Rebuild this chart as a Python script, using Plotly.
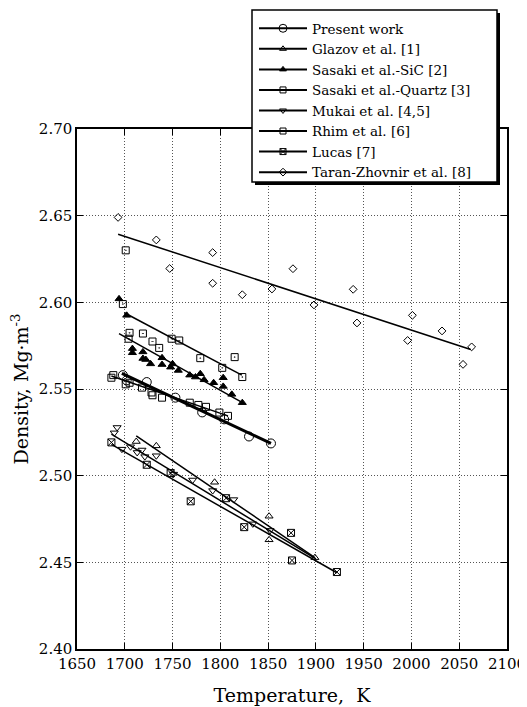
import plotly.graph_objects as go

# ---- data ----
present_T = [1698, 1702, 1723, 1753, 1781, 1804, 1830, 1853]
present_d = [2.558, 2.555, 2.554, 2.545, 2.5365, 2.5325, 2.5226, 2.5186]

glazov_T = [1712, 1733, 1794, 1851, 1851, 1899]
glazov_d = [2.5197, 2.5172, 2.4962, 2.4766, 2.463, 2.4527]

sic_T = [1694, 1702, 1708, 1708, 1719, 1719, 1722, 1727, 1739, 1739, 1748,
         1750, 1756, 1768, 1774, 1779, 1783, 1793, 1803, 1803, 1812, 1823]
sic_d = [2.602, 2.5925, 2.5733, 2.5709, 2.5714, 2.5676, 2.567, 2.5645, 2.568,
         2.5641, 2.5626, 2.5645, 2.5607, 2.558, 2.5569, 2.5588, 2.5553, 2.5536,
         2.5565, 2.5515, 2.5469, 2.5421]

quartz_T = [1701, 1698, 1705, 1719, 1704, 1729, 1736, 1749, 1757, 1779, 1815, 1802, 1823]
quartz_d = [2.630, 2.599, 2.5824, 2.582, 2.579, 2.5774, 2.5737, 2.579, 2.578,
            2.5678, 2.5684, 2.5622, 2.5569]

mukai_T = [1689, 1692, 1697, 1706, 1713, 1718, 1721, 1733, 1751, 1771, 1792, 1814, 1834, 1852]
mukai_d = [2.5247, 2.5278, 2.5153, 2.5167, 2.5134, 2.5148, 2.511, 2.5115, 2.5009,
           2.4975, 2.4914, 2.4862, 2.4722, 2.4684]

rhim_T = [1686, 1688, 1701, 1705, 1718, 1728, 1729, 1739, 1768, 1777, 1785, 1799, 1808]
rhim_d = [2.5565, 2.558, 2.5527, 2.5536, 2.5508, 2.548, 2.5464, 2.545, 2.5421,
          2.5408, 2.5397, 2.5364, 2.5345]

lucas_T = [1686, 1723, 1748, 1769, 1806, 1825, 1874, 1875, 1922]
lucas_d = [2.5192, 2.5063, 2.5015, 2.4852, 2.487, 2.4703, 2.467, 2.4511, 2.4444]

taran_T = [1693, 1733, 1747, 1792, 1792, 1823, 1854, 1876, 1898, 1939, 1943,
           2001, 1996, 2032, 2063, 2054]
taran_d = [2.649, 2.636, 2.6195, 2.6287, 2.611, 2.6044, 2.6077, 2.6194, 2.5985,
           2.6075, 2.5881, 2.5925, 2.578, 2.5835, 2.5743, 2.5642]

# fitted lines: (T_start, T_end, d_start, d_end)
present_fit = (1697, 1853, 2.559, 2.5186)
glazov_fit = (1712, 1899, 2.523, 2.4527)
sic_fit = (1694, 1825, 2.582, 2.5416)
quartz_fit = (1699.5, 1822.5, 2.594, 2.558)
mukai_fit = (1686, 1900, 2.524, 2.452)
rhim_fit = (1686, 1808, 2.5575, 2.5345)
lucas_fit = (1686, 1922, 2.518, 2.444)
taran_fit = (1693, 2062, 2.6393, 2.5728)

series = [
    ("Present work", present_T, present_d, present_fit, "circle-open", 9, 3),
    ("Glazov et al. [1]", glazov_T, glazov_d, glazov_fit, "triangle-up-open", 7, 1.5),
    ("Sasaki et al.-SiC [2]", sic_T, sic_d, sic_fit, "triangle-up", 7, 1.5),
    ("Sasaki et al.-Quartz [3]", quartz_T, quartz_d, quartz_fit, "square-open-dot", 7, 1.5),
    ("Mukai et al. [4,5]", mukai_T, mukai_d, mukai_fit, "triangle-down-open", 7, 1.5),
    ("Rhim et al. [6]", rhim_T, rhim_d, rhim_fit, "square-open", 7, 1.5),
    ("Lucas [7]", lucas_T, lucas_d, lucas_fit, "square-x-open", 7, 1.5),
    ("Taran-Zhovnir et al. [8]", taran_T, taran_d, taran_fit, "diamond-open", 6, 1.5),
]

FONT = "DejaVu Serif"
fig = go.Figure()
for name, T, d, fit, sym, size, lw in series:
    fig.add_trace(go.Scatter(x=[fit[0], fit[1]], y=[fit[2], fit[3]], mode="lines",
                             line=dict(color="black", width=lw), showlegend=False,
                             hoverinfo="skip"))
    fig.add_trace(go.Scatter(x=T, y=d, mode="markers", showlegend=False, name=name,
                             marker=dict(symbol=sym, size=size, color="black",
                                         line=dict(color="black", width=1))))
# legend entries
for name, T, d, fit, sym, size, lw in series:
    fig.add_trace(go.Scatter(x=[None], y=[None], mode="lines+markers", name=name,
                             line=dict(color="black", width=2),
                             marker=dict(symbol=sym, size=6 if sym != "circle-open" else 8,
                                         color="black", line=dict(color="black", width=1))))

axis_common = dict(showline=True, linecolor="black", linewidth=1.5, mirror="ticks",
                   ticks="inside", ticklen=6, tickcolor="black", automargin=False,
                   showgrid=True, gridcolor="#555", griddash="1px,2px", gridwidth=1,
                   zeroline=False, tickfont=dict(family=FONT, size=15, color="black"))

# the page adds an 8px body margin, so the figure is drawn 8px in from the corner
OFF = 8
ML, MT, MR, MB = 69, 121, 20, 58
W, H = 519, 699
PW, PH = W - ML - MR, H - MT - MB


def px_to_paper(px, py):
    return (px - OFF - ML) / PW, (H - MB - (py - OFF)) / PH


# legend frame (drawn as shapes) and its drop shadow, in page pixels
bx0, by0 = px_to_paper(252, 10)
bx1, by1 = px_to_paper(497, 182)
sx0, sy0 = px_to_paper(255, 13)
sx1, sy1 = px_to_paper(500, 185)
lx0, ly0 = px_to_paper(254, 13)

fig.update_layout(
    width=W, height=H,
    margin=dict(l=ML, r=MR, t=MT, b=MB, autoexpand=False),
    paper_bgcolor="white", plot_bgcolor="white",
    font=dict(family=FONT, color="black"),
    xaxis=dict(range=[1650, 2100], dtick=50, tick0=1650,
               title=dict(text="Temperature,  K", font=dict(family=FONT, size=19), standoff=17),
               **axis_common),
    yaxis=dict(range=[2.40, 2.70], dtick=0.05, tick0=2.40, tickformat=".2f",
               title=dict(text="Density, Mg·m<sup>-3</sup>", font=dict(family=FONT, size=19), standoff=6),
               **axis_common),
    legend=dict(x=lx0, y=ly0, xanchor="left", yanchor="top",
                bgcolor="rgba(0,0,0,0)", borderwidth=0,
                font=dict(family=FONT, size=13.5, color="black"),
                tracegroupgap=0, itemwidth=48),
    shapes=[
        dict(type="rect", xref="paper", yref="paper", x0=sx0, x1=sx1, y0=sy0, y1=sy1,
             fillcolor="black", line=dict(width=0), layer="above"),
        dict(type="rect", xref="paper", yref="paper", x0=bx0, x1=bx1, y0=by0, y1=by1,
             fillcolor="white", line=dict(color="black", width=1.5), layer="above"),
    ],
    showlegend=True,
)

fig.write_html("out.html")
